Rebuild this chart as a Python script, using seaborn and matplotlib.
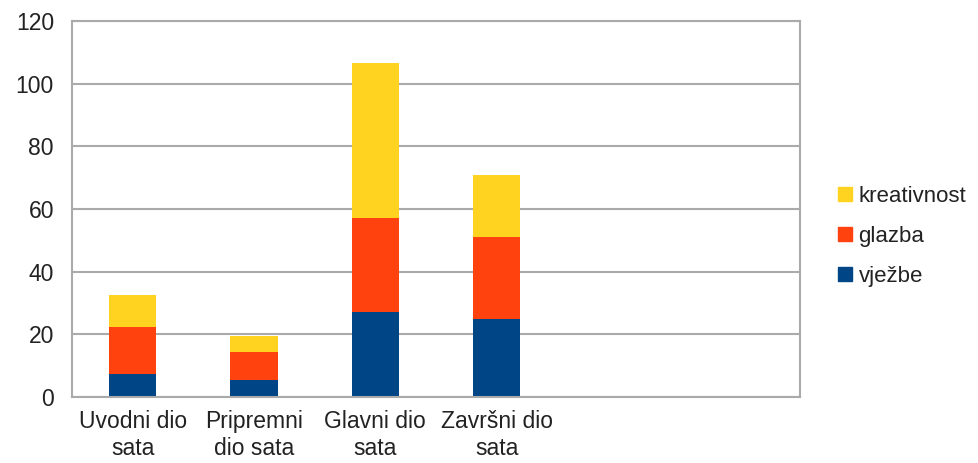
import matplotlib
matplotlib.use("Agg")
import matplotlib.pyplot as plt
import seaborn as sns
import pandas as pd
from matplotlib.patches import Patch

categories = ["Uvodni dio\nsata", "Pripremni\ndio sata", "Glavni dio\nsata", "Završni dio\nsata"]
vjezbe = [7.5, 5.5, 27, 25]
glazba = [15, 9, 30, 26]
kreativnost = [10, 5, 49.5, 20]
yticks = [0, 20, 40, 60, 80, 100, 120]

colors = {"vježbe": "#004586", "glazba": "#ff420e", "kreativnost": "#ffd320"}

sns.set_theme(style="white")
plt.rcParams['font.family'] = ['Liberation Sans', 'DejaVu Sans']

df = pd.DataFrame({"cat": categories, "vježbe": vjezbe, "glazba": glazba, "kreativnost": kreativnost})
df["b2"] = df["vježbe"]
df["b3"] = df["vježbe"] + df["glazba"]

fig = plt.figure(figsize=(9.79, 4.63), dpi=100)
ax = fig.add_axes([0.0735, 0.1425, 0.7435, 0.812])

kw = dict(width=0.39, ax=ax, saturation=1, linewidth=0, edgecolor="none")
sns.barplot(data=df, x="cat", y="vježbe", color=colors["vježbe"], **kw)
sns.barplot(data=df, x="cat", y="glazba", bottom=df["b2"], color=colors["glazba"], **kw)
sns.barplot(data=df, x="cat", y="kreativnost", bottom=df["b3"], color=colors["kreativnost"], **kw)

ax.set_xlim(-0.5, 5.5)
ax.set_ylim(0, 120)
ax.set_yticks(yticks)
ax.set_xlabel("")
ax.set_ylabel("")
ax.yaxis.grid(True, color="#aaaaaa", linewidth=1.5)
ax.set_axisbelow(True)
for s in ax.spines.values():
    s.set_color("#aaaaaa")
    s.set_linewidth(1.5)
ax.tick_params(axis="y", labelsize=16.5, labelcolor="#222222", pad=7, left=False)
ax.tick_params(axis="x", labelsize=16.5, labelcolor="#222222", pad=3, bottom=False)
for t in ax.get_xticklabels():
    t.set_linespacing(1.25)

handles = [Patch(color=colors[k]) for k in ["kreativnost", "glazba", "vježbe"]]
fig.legend(handles, ["kreativnost", "glazba", "vježbe"], loc="center left",
           bbox_to_anchor=(0.836, 0.489), frameon=False, fontsize=16,
           handlelength=0.6, handleheight=0.6, handletextpad=0.3, labelspacing=0.85,
           labelcolor="#222222")

fig.savefig("out.png", dpi=100)
